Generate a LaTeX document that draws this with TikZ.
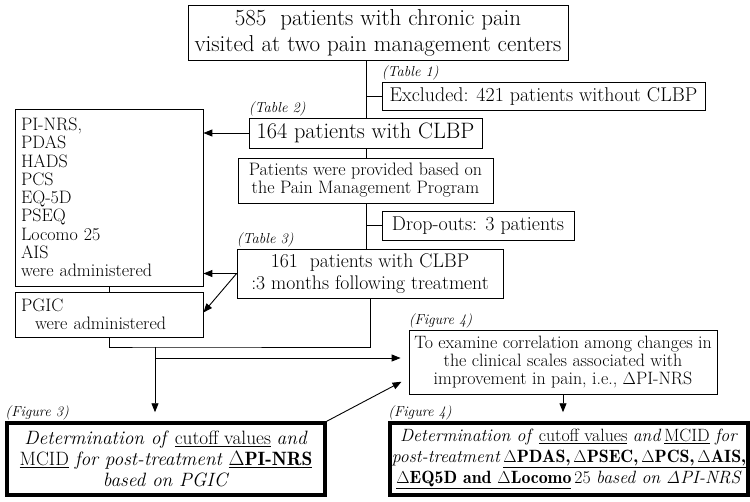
\documentclass[tikz,border=0pt]{standalone}
\usetikzlibrary{arrows.meta}
\newcommand{\demi}[1]{{\fontseries{b}\selectfont #1}}
\begin{document}
\begin{tikzpicture}[x=1pt,y=-1pt,
  box/.style={draw,line width=0.8pt,inner sep=2pt,align=center},
  res/.style={draw,line width=3.5pt,inner sep=2pt,align=center,minimum height=72pt},
  lab/.style={anchor=south west,inner xsep=0pt,inner ysep=1pt,font=\fontsize{14.5}{16}\selectfont\itshape},
  link/.style={line width=0.9pt},
  >={Triangle[length=9pt,width=7pt]}]
\useasboundingbox (0,0) rectangle (750,501);
\coordinate (m) at (366,0);
% main flow
\node [box,minimum width=380pt,minimum height=55pt,font=\fontsize{23}{26}\selectfont] (top) at (378,32.5)
  {585~ patients with chronic pain\\visited at two pain management centers};
\node [box,minimum width=323pt,minimum height=28pt,font=\fontsize{19.9}{22}\selectfont] (excl) at (543.5,96)
  {Excluded: 421 patients without CLBP};
\node [box,minimum width=233pt,minimum height=30pt,font=\fontsize{22.3}{26}\selectfont] (c164) at (365.5,133)
  {164 patients with CLBP};
\node [box,minimum width=255pt,minimum height=45pt,font=\fontsize{18}{18}\selectfont] (prog) at (365.5,180.5)
  {Patients were provided based on\\the Pain Management Program};
\node [box,minimum width=192pt,minimum height=29pt,font=\fontsize{20}{22}\selectfont] (drop) at (478,225.5)
  {Drop-outs: 3 patients};
\node [box,minimum width=266pt,minimum height=49pt,font=\fontsize{19.7}{22}\selectfont] (c161) at (370,273.5)
  {161~ patients with CLBP\\:3 months following treatment};
% measures
\node [box,align=left,text width=176pt,inner xsep=6pt,minimum height=177pt,font=\fontsize{18}{18.25}\selectfont] (meas) at (109,197.5)
  {PI-NRS,\\PDAS\\HADS\\PCS\\EQ-5D\\PSEQ\\Locomo 25\\AIS\\were administered};
\node [box,align=left,text width=176pt,inner xsep=6pt,minimum height=45pt,font=\fontsize{18}{18.25}\selectfont] (pgic) at (109,314.5)
  {PGIC\\\hspace*{14pt}were administered};
% analyses
\node [box,minimum width=308pt,minimum height=64pt,font=\fontsize{17.9}{18}\selectfont] (scal) at (563,362)
  {To examine correlation among changes in\\the clinical scales associated with\\improvement in pain, i.e., $\Delta$PI-NRS};
\node [res,minimum width=318pt,font=\fontsize{19.3}{21}\selectfont] (res3) at (166,459)
  {\textit{Determination of} \underline{cutoff values} \textit{and}\\
   \underline{MCID} \textit{for post-treatment} \underline{\demi{$\Delta$PI-NRS}}\\
   \textit{based on PGIC}};
\node [res,minimum width=358pt,font=\fontsize{17.8}{21}\selectfont] (res4) at (569,459)
  {\textit{Determination of} \underline{cutoff values} \textit{and}\,\underline{MCID} \textit{for}\\
   \textit{post-treatment}\,\underline{\demi{$\Delta$PDAS,\,$\Delta$PSEC,\,$\Delta$PCS,\,$\Delta$AIS,}}\\
   \underline{\demi{$\Delta$EQ5D and $\Delta$Locomo}}\,25 \textit{based on $\mathit{\Delta}$PI-NRS}};
% source labels
\node [lab] at (excl.north west) {(Table 1)};
\node [lab] at (c164.north west) {(Table 2)};
\node [lab] at (c161.north west) {(Table 3)};
\node [lab] at (scal.north west) {(Figure 4)};
\node [lab] at (res3.north west) {(Figure 3)};
\node [lab] at (res4.north west) {(Figure 4)};
% connectors
\coordinate (jn) at (155,347);
\coordinate (jn2) at (155,358);
\draw [link] (top.south -| m) -- (c164.north -| m);
\draw [link] (excl.west) -- (excl.west -| m);
\draw [link] (c164.south -| m) -- (prog.north -| m);
\draw [link] (prog.south -| m) -- (c161.north -| m);
\draw [link] (drop.west) -- (drop.west -| m);
\draw [link,->] (c164.west) -- (meas.east |- c164.west);
\draw [link,->] (c161.west) -- (meas.east |- c161.west);
\draw [link,->] (c161.west) -- ([yshift=2pt]pgic.east);
\draw [link] (meas.south) -- (pgic.north);
\draw [link] (pgic.south) |- (jn) -| (c161.south);
\draw [link,->,shorten >=9pt] (jn) -- (jn |- res3.north);
\draw [link,->,shorten >=8pt] (jn2) -- (jn2 -| scal.west);
\draw [link,->,shorten >=8pt] (res3.north east) -- ([yshift=-16pt]scal.west);
\draw [link,->,shorten >=9pt] (scal.south) -- (scal.south |- res4.north);
\end{tikzpicture}
\end{document}
